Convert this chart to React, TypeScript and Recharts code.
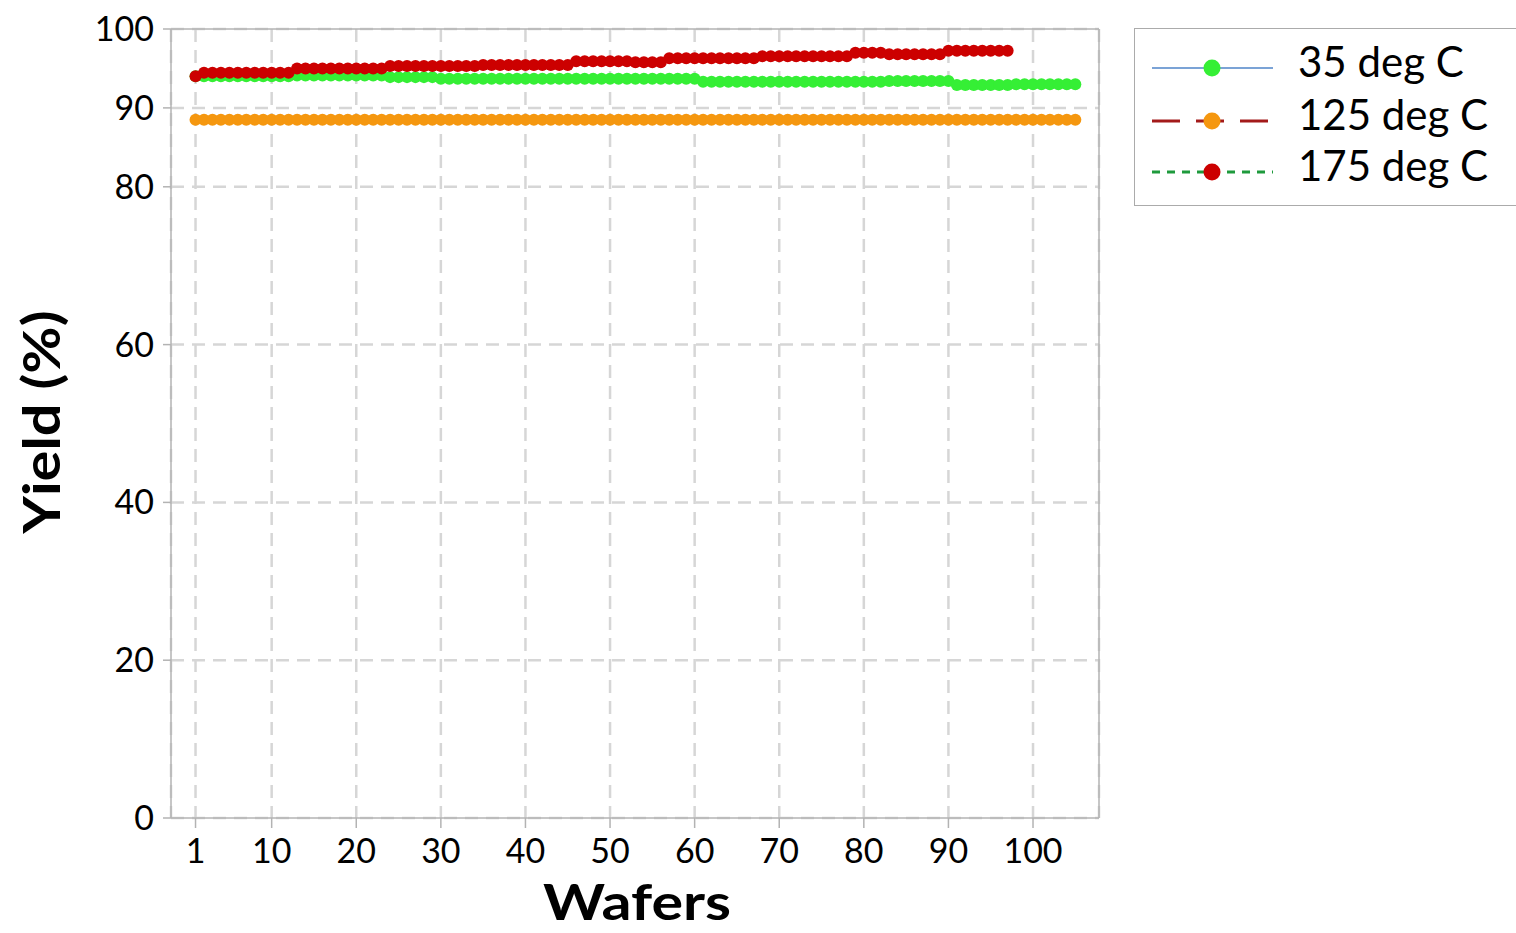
import React from 'react'
import { LineChart, Line, XAxis, YAxis, CartesianGrid, ReferenceLine, Legend } from 'recharts'

// wafer index (x categories)
const wafers = [
    1, 2, 3, 4, 5, 6, 7, 8, 9, 10, 11, 12, 13, 14, 15, 16, 17, 18, 19, 20,
    21, 22, 23, 24, 25, 26, 27, 28, 29, 30, 31, 32, 33, 34, 35, 36, 37, 38, 39, 40,
    41, 42, 43, 44, 45, 46, 47, 48, 49, 50, 51, 52, 53, 54, 55, 56, 57, 58, 59, 60,
    61, 62, 63, 64, 65, 66, 67, 68, 69, 70, 71, 72, 73, 74, 75, 76, 77, 78, 79, 80,
    81, 82, 83, 84, 85, 86, 87, 88, 89, 90, 91, 92, 93, 94, 95, 96, 97, 98, 99, 100,
    101, 102, 103, 104, 105,
]

// yield (%) per wafer
const yield35 = [
    94.0, 94.0, 94.0, 94.0, 94.0, 94.0, 94.0, 94.0, 94.0, 94.0, 94.0, 94.0,
    94.1, 94.1, 94.1, 94.1, 94.1, 94.1, 94.1, 94.1, 94.1, 94.1, 94.1,
    93.9, 93.9, 93.9, 93.9, 93.9, 93.9,
    93.7, 93.7, 93.7, 93.7, 93.7, 93.7, 93.7, 93.7, 93.7, 93.7, 93.7, 93.7, 93.7, 93.7, 93.7, 93.7,
    93.7, 93.7, 93.7, 93.7, 93.7, 93.7, 93.7, 93.7, 93.7, 93.7, 93.7, 93.7, 93.7, 93.7, 93.7,
    93.3, 93.3, 93.3, 93.3, 93.3, 93.3, 93.3, 93.3, 93.3, 93.3, 93.3,
    93.3, 93.3, 93.3, 93.3, 93.3, 93.3, 93.3, 93.3, 93.3, 93.3, 93.3,
    93.4, 93.4, 93.4, 93.4, 93.4, 93.4, 93.4, 93.4,
    92.9, 92.9, 92.9, 92.9, 92.9, 92.9, 92.9,
    93.0, 93.0, 93.0, 93.0, 93.0, 93.0, 93.0, 93.0,
]

const yield125 = [
    88.5, 88.5, 88.5, 88.5, 88.5, 88.5, 88.5, 88.5, 88.5, 88.5, 88.5, 88.5, 88.5, 88.5, 88.5,
    88.5, 88.5, 88.5, 88.5, 88.5, 88.5, 88.5, 88.5, 88.5, 88.5, 88.5, 88.5, 88.5, 88.5, 88.5,
    88.5, 88.5, 88.5, 88.5, 88.5, 88.5, 88.5, 88.5, 88.5, 88.5, 88.5, 88.5, 88.5, 88.5, 88.5,
    88.5, 88.5, 88.5, 88.5, 88.5, 88.5, 88.5, 88.5, 88.5, 88.5, 88.5, 88.5, 88.5, 88.5, 88.5,
    88.5, 88.5, 88.5, 88.5, 88.5, 88.5, 88.5, 88.5, 88.5, 88.5, 88.5, 88.5, 88.5, 88.5, 88.5,
    88.5, 88.5, 88.5, 88.5, 88.5, 88.5, 88.5, 88.5, 88.5, 88.5, 88.5, 88.5, 88.5, 88.5, 88.5,
    88.5, 88.5, 88.5, 88.5, 88.5, 88.5, 88.5, 88.5, 88.5, 88.5, 88.5, 88.5, 88.5, 88.5, 88.5,
]

const yield175 = [
    94.0,
    94.45, 94.45, 94.45, 94.45, 94.45, 94.45, 94.45, 94.45, 94.45, 94.45, 94.45,
    95.0, 95.0, 95.0, 95.0, 95.0, 95.0, 95.0, 95.0, 95.0, 95.0, 95.0,
    95.3, 95.3, 95.3, 95.3, 95.3, 95.3, 95.3, 95.3, 95.3, 95.3, 95.3,
    95.45, 95.45, 95.45, 95.45, 95.45, 95.45, 95.45, 95.45, 95.45, 95.45, 95.45,
    95.9, 95.9, 95.9, 95.9, 95.9, 95.9, 95.9,
    95.8, 95.8, 95.8, 95.8,
    96.3, 96.3, 96.3, 96.3, 96.3, 96.3, 96.3, 96.3, 96.3, 96.3, 96.3,
    96.55, 96.55, 96.55, 96.55, 96.55, 96.55, 96.55, 96.55, 96.55, 96.55, 96.55,
    97.0, 97.0, 97.0, 97.0,
    96.8, 96.8, 96.8, 96.8, 96.8, 96.8, 96.8,
    97.25, 97.25, 97.25, 97.25, 97.25, 97.25, 97.25, 97.25,
]

const xTicks = [1, 10, 20, 30, 40, 50, 60, 70, 80, 90, 100]
const yTicks = [0, 20, 40, 60, 80, 90, 100]

const series = [
    { key: 't35', name: '35 deg C', line: '#7ba3d6', dash: undefined, dot: '#35ef35' },
    { key: 't125', name: '125 deg C', line: '#a31a1a', dash: '28 16', dot: '#f5970f' },
    { key: 't175', name: '175 deg C', line: '#1e9a3c', dash: '8 7', dot: '#cc0000' },
]

const data = wafers.map((w, i) => ({
    wafer: w,
    t35: yield35[i] ?? null,
    t125: yield125[i] ?? null,
    t175: yield175[i] ?? null,
}))

const AXIS_GRAY = '#b3b3b3'
const FONT = 'Lato, "Open Sans", sans-serif'

function XTitle() {
    return (
        <text x={543} y={920} fontSize={49} fontWeight={700} fill="#000" fontFamily={FONT}
            textLength={188} lengthAdjust="spacingAndGlyphs">
            Wafers
        </text>
    )
}

function YTitle() {
    return (
        <text transform="translate(60, 422) rotate(-90)" x={-111.5} y={0} fontSize={52} fontWeight={700}
            fill="#000" fontFamily={FONT} textLength={223} lengthAdjust="spacingAndGlyphs">
            Yield (%)
        </text>
    )
}

function LegendBox() {
    const rows = [39, 92, 143]
    return (
        <div style={{ border: '1.5px solid #ababab', background: '#fff', width: 420, height: 178, boxSizing: 'border-box' }}>
            <svg width={420} height={175}>
                {series.map((s, i) => (
                    <g key={s.key}>
                        <line x1={17} x2={138} y1={rows[i]} y2={rows[i]} stroke={s.line}
                            strokeWidth={s.dash ? 3 : 2} strokeDasharray={s.dash} />
                        <circle cx={77} cy={rows[i]} r={8.5} fill={s.dot} />
                        <text x={163} y={rows[i] + 9} fontSize={42} fill="#000" fontFamily={FONT}>
                            {s.name}
                        </text>
                    </g>
                ))}
            </svg>
        </div>
    )
}

export default function App() {
    return (
        <div style={{ position: 'absolute', left: 0, top: 0, width: 1516, height: 933, overflow: 'hidden', background: '#fff', fontFamily: FONT }}>
            <LineChart width={1516} height={933} data={data} margin={{ top: 29, right: 417, left: 0, bottom: 0 }}>
                <CartesianGrid stroke="#d6d6d6" strokeWidth={2.5} strokeDasharray="13 8" />
                <XAxis
                    dataKey="wafer"
                    type="number"
                    domain={[-1.9, 107.8]}
                    allowDataOverflow
                    ticks={xTicks}
                    interval={0}
                    height={115}
                    tickSize={10}
                    tickMargin={11}
                    axisLine={{ stroke: AXIS_GRAY, strokeWidth: 1.5 }}
                    tickLine={{ stroke: AXIS_GRAY, strokeWidth: 1.5 }}
                    tick={{ fontSize: 34, fill: '#000' }}
                    label={<XTitle />}
                />
                <YAxis
                    type="number"
                    domain={[0, 100]}
                    ticks={yTicks}
                    interval={0}
                    width={171}
                    tickSize={8}
                    tickMargin={9}
                    axisLine={{ stroke: AXIS_GRAY, strokeWidth: 1.5 }}
                    tickLine={{ stroke: AXIS_GRAY, strokeWidth: 1.5 }}
                    tick={{ fontSize: 34, fill: '#000' }}
                    label={<YTitle />}
                />
                <ReferenceLine y={100} stroke={AXIS_GRAY} strokeWidth={1.5} />
                <ReferenceLine x={107.8} stroke={AXIS_GRAY} strokeWidth={1.5} />
                <Legend
                    layout="vertical"
                    align="center"
                    verticalAlign="middle"
                    content={() => <LegendBox />}
                    wrapperStyle={{ left: 1134, top: 28, width: 420, height: 178 }}
                />
                {series.map((s) => (
                    <Line
                        key={s.key}
                        type="linear"
                        dataKey={s.key}
                        name={s.name}
                        stroke={s.line}
                        strokeWidth={2}
                        strokeDasharray={s.dash}
                        dot={{ r: 6, fill: s.dot, stroke: s.dot, strokeWidth: 0 }}
                        activeDot={false}
                        isAnimationActive={false}
                    />
                ))}
            </LineChart>
        </div>
    )
}
